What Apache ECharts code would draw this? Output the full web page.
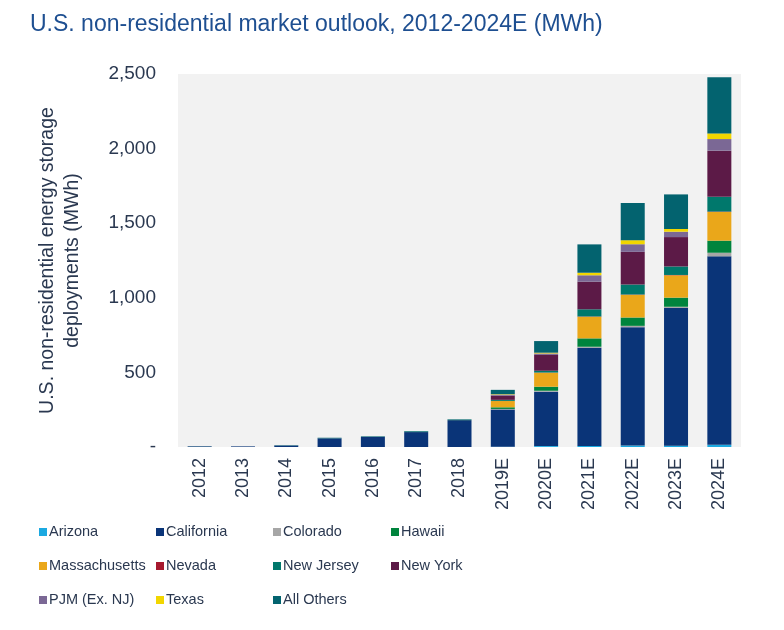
<!DOCTYPE html>
<html>
<head>
<meta charset="utf-8">
<script src="https://cdn.jsdelivr.net/npm/echarts@6/dist/echarts.min.js"></script>
<style>
    html, body { margin: 0; padding: 0; background: #fff; }
    #chart { width: 784px; height: 630px; }
</style>
</head>
<body>
<div id="chart"></div>
<script>
//年份
var years = ['2012', '2013', '2014', '2015', '2016', '2017', '2018', '2019E', '2020E', '2021E', '2022E', '2023E', '2024E'];
//各州数据 (MWh)
var arizona = [0, 0, 0, 0, 0, 0, 0, 2, 6, 7, 10, 9, 15];
var california = [4, 4, 10, 58, 68, 100, 180, 250, 365, 658, 793, 923, 1263];
var colorado = [0, 0, 0, 0, 0, 0, 0, 3, 6, 7, 9, 8, 24];
var hawaii = [0, 0, 0, 0, 0, 1, 1, 11, 27, 56, 56, 61, 81];
var massachusetts = [0, 0, 0, 0, 0, 0, 0, 42, 94, 145, 152, 150, 192];
var nevada = [0, 0, 0, 0, 0, 0, 0, 1, 1, 2, 2, 2, 3];
var newJersey = [0, 0, 1, 1, 1, 2, 2, 7, 12, 48, 67, 57, 99];
var newYork = [0, 0, 0, 0, 0, 0, 0, 29, 106, 185, 219, 197, 309];
var pjm = [0, 0, 0, 0, 0, 0, 0, 6, 10, 43, 51, 36, 78];
var texas = [0, 0, 0, 0, 0, 0, 0, 3, 5, 17, 27, 18, 38];
var allOthers = [1, 0, 1, 3, 3, 4, 3, 29, 78, 190, 250, 232, 376];
//y轴刻度
var yTicks = [0, 500, 1000, 1500, 2000, 2500];

var names = ['Arizona', 'California', 'Colorado', 'Hawaii', 'Massachusetts', 'Nevada',
    'New Jersey', 'New York', 'PJM (Ex. NJ)', 'Texas', 'All Others'];
var values = [arizona, california, colorado, hawaii, massachusetts, nevada,
    newJersey, newYork, pjm, texas, allOthers];
var colors = ['#1ba9e1', '#0a3478', '#a6a6a6', '#00843d', '#eaa71a', '#a6192e',
    '#00786c', '#5c1a47', '#7b6895', '#f2d600', '#03636f'];

var txt = '#2a3850';
var series = [];
for (var i = 0; i < names.length; i++) {
    series.push({
        name: names[i], type: 'bar', stack: 'total', barWidth: 24,
        itemStyle: { color: colors[i] },
        data: values[i]
    });
}

//图例按列排布
var columns = [
    ['Arizona', 'Massachusetts', 'PJM (Ex. NJ)'],
    ['California', 'Nevada', 'Texas'],
    ['Colorado', 'New Jersey', 'All Others'],
    ['Hawaii', 'New York']
];
var colLeft = [39, 156, 273, 391];
var legends = columns.map(function (col, k) {
    return {
        data: col, orient: 'vertical', left: colLeft[k], top: 523, padding: 0,
        itemWidth: 8, itemHeight: 8, itemGap: 16, icon: 'rect',
        textStyle: {
            fontSize: 14.5, lineHeight: 18, color: txt, padding: [0, 0, 0, -3]
        }
    };
});

var myChart = echarts.init(document.getElementById('chart'));
myChart.setOption({
    animation: false,
    textStyle: { fontFamily: '"Liberation Sans", Arial, sans-serif' },
    title: {
        text: 'U.S. non-residential market outlook, 2012-2024E (MWh)',
        left: 25, top: 8,
        textStyle: { fontSize: 23, fontWeight: 'normal', color: '#1e4f91' }
    },
    legend: legends,
    grid: {
        left: 178, right: 43, top: 74, bottom: 183,
        show: true, backgroundColor: '#f2f2f2', borderWidth: 0
    },
    xAxis: {
        type: 'category', data: years,
        axisLine: { show: false }, axisTick: { show: false },
        axisLabel: { rotate: 90, margin: 11, fontSize: 18, color: txt }
    },
    yAxis: {
        type: 'value', min: yTicks[0], max: yTicks[yTicks.length - 1], interval: 500,
        splitLine: { show: false }, axisLine: { show: false }, axisTick: { show: false },
        axisLabel: {
            margin: 22, fontSize: 19, color: txt,
            formatter: function (v) { return v === 0 ? '-' : v.toLocaleString('en-US'); }
        },
        name: 'U.S. non-residential energy storage\ndeployments (MWh)',
        nameLocation: 'middle', nameGap: 93,
        nameTextStyle: { fontSize: 19.5, lineHeight: 25, color: txt }
    },
    series: series
});
</script>
</body>
</html>
